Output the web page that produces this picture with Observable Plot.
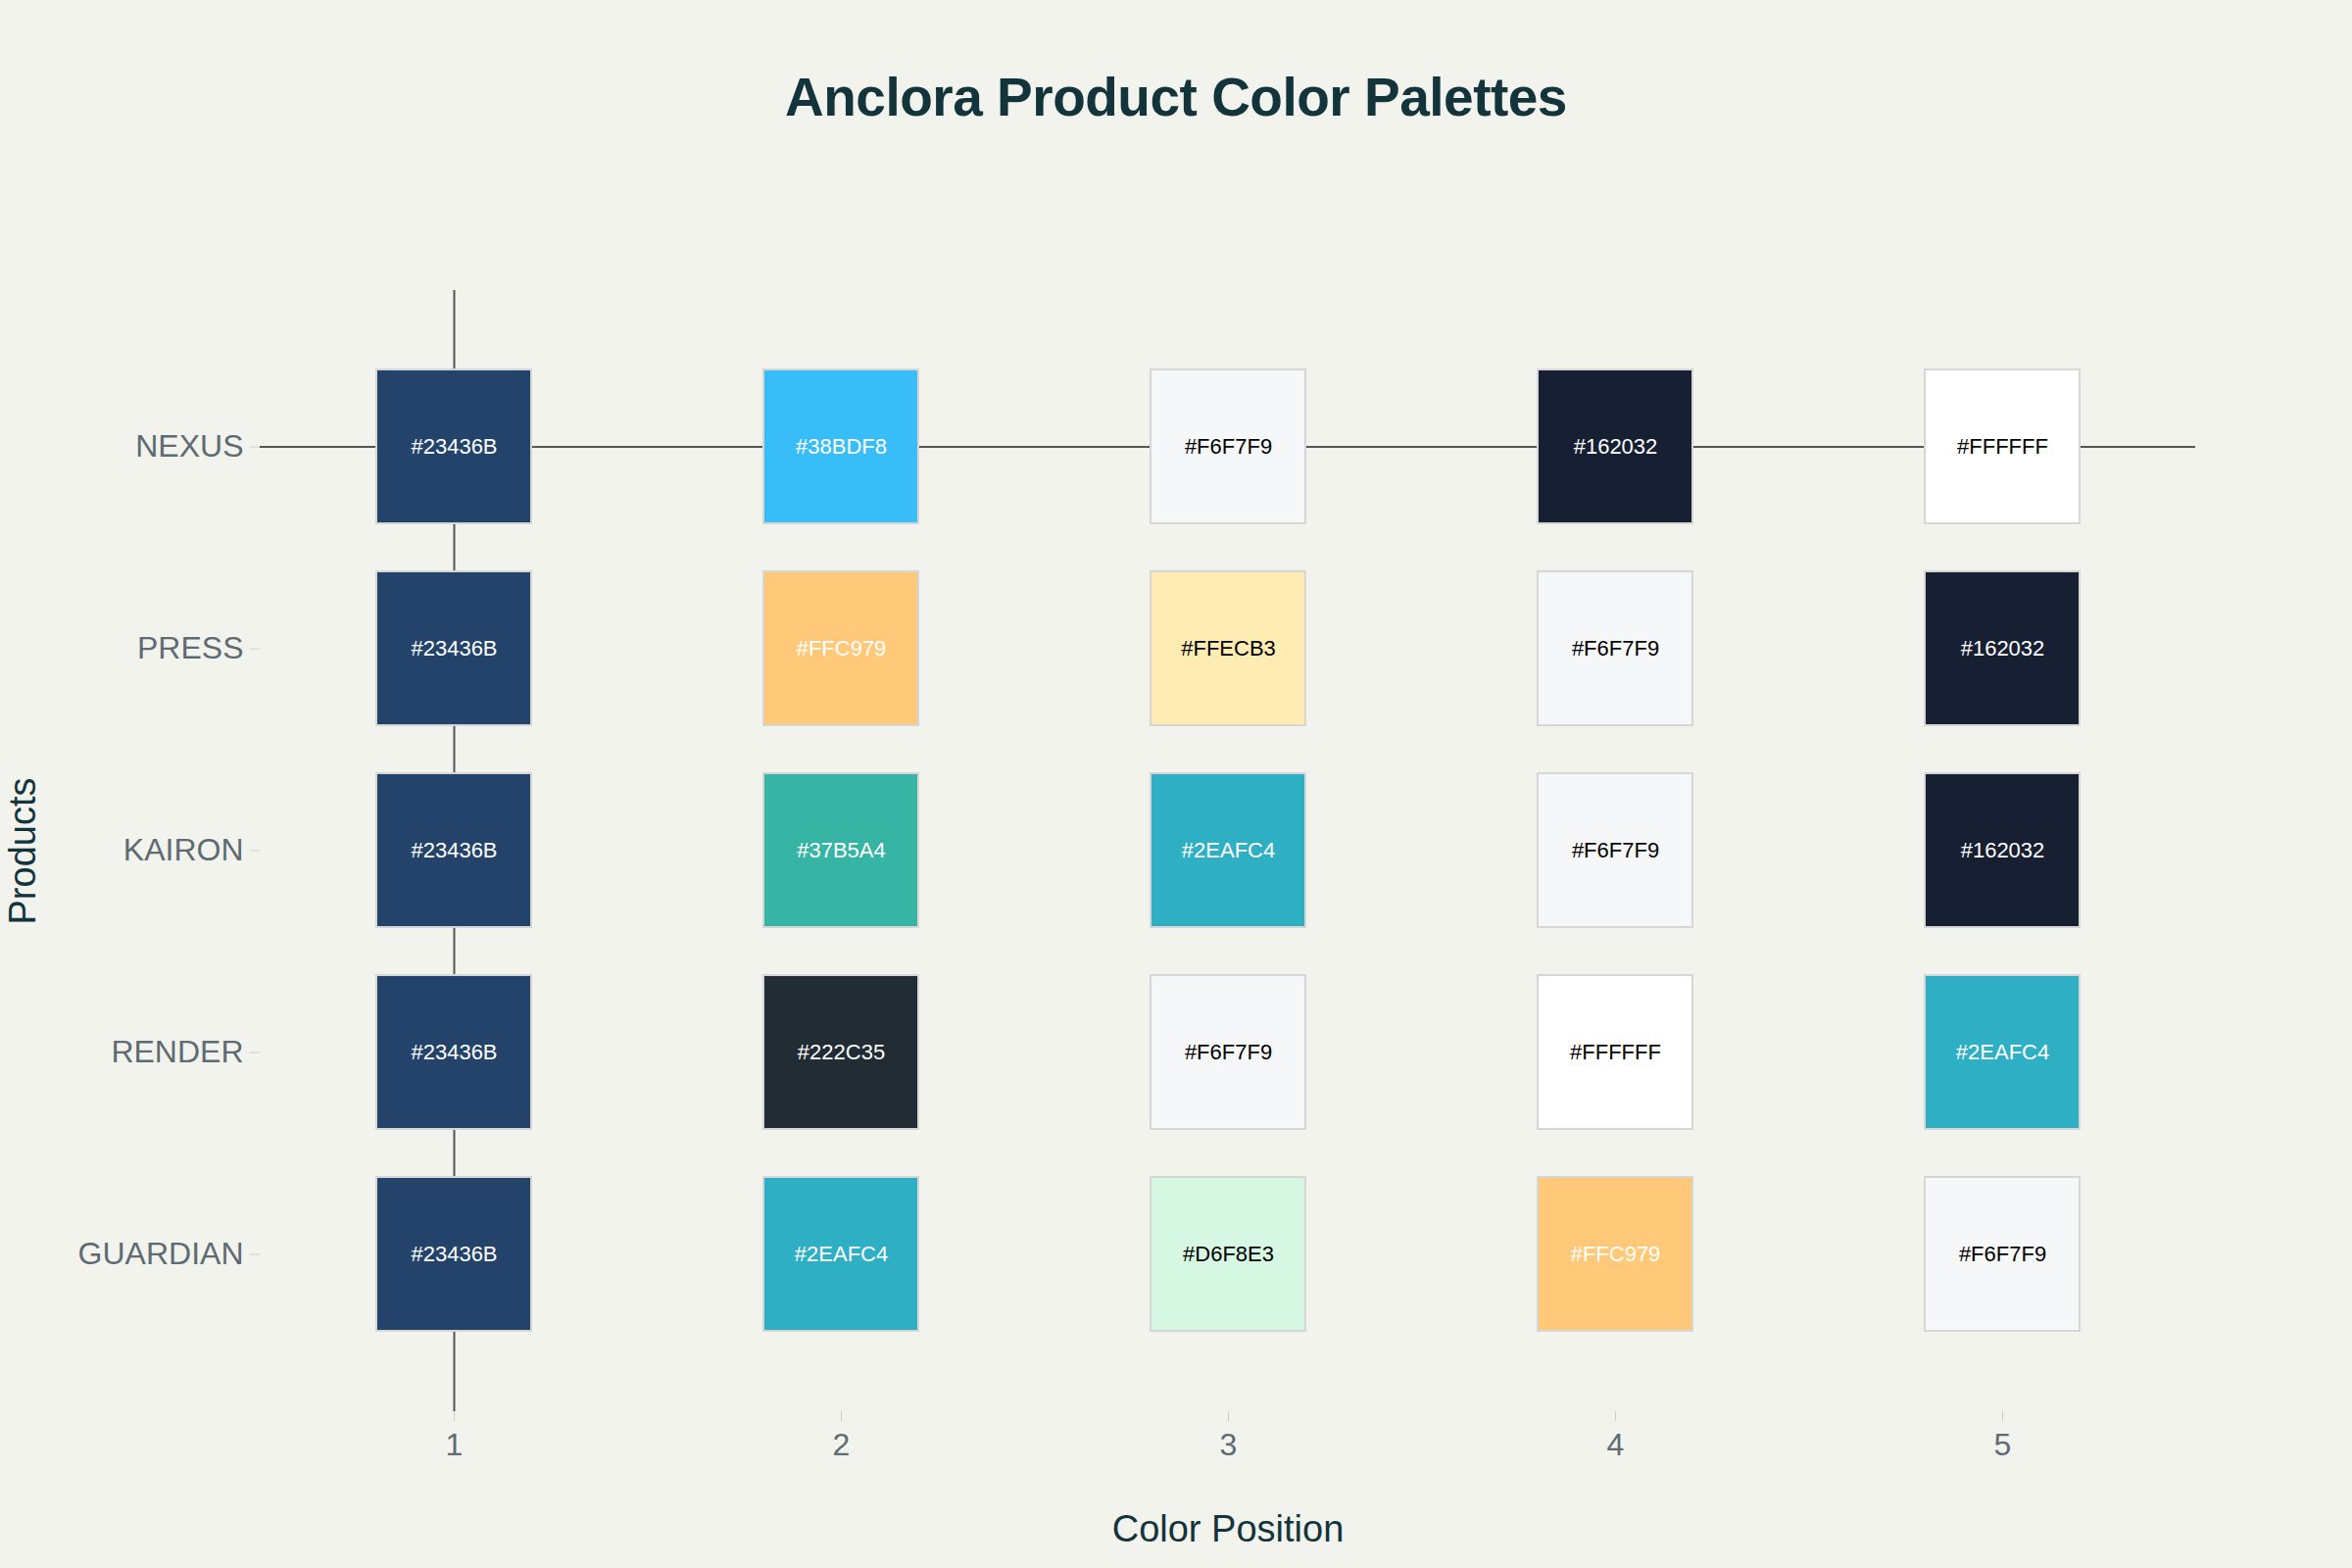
<!DOCTYPE html>
<html><head><meta charset="utf-8">
<script src="https://cdn.jsdelivr.net/npm/d3@7"></script>
<script src="https://cdn.jsdelivr.net/npm/@observablehq/plot@0.6"></script>
<style>
html,body{margin:0;padding:0;background:#F3F3EE;}
#wrap{width:2400px;height:1600px;position:relative;background:#F3F3EE;font-family:"Liberation Sans",Arial,sans-serif;}
#title{height:160px;box-sizing:border-box;padding-top:72px;text-align:center;font-size:55px;font-weight:bold;line-height:1;color:#13343B;letter-spacing:-0.5px;}
#chart svg{display:block;}
</style></head><body>
<div id="wrap"><div id="title">Anclora Product Color Palettes</div><div id="chart"></div></div>
<script>
const products = ["NEXUS", "PRESS", "KAIRON", "RENDER", "GUARDIAN"];
const positions = [1, 2, 3, 4, 5];
const nexus    = ["#23436B", "#38BDF8", "#F6F7F9", "#162032", "#FFFFFF"];
const press    = ["#23436B", "#FFC979", "#FFECB3", "#F6F7F9", "#162032"];
const kairon   = ["#23436B", "#37B5A4", "#2EAFC4", "#F6F7F9", "#162032"];
const render   = ["#23436B", "#222C35", "#F6F7F9", "#FFFFFF", "#2EAFC4"];
const guardian = ["#23436B", "#2EAFC4", "#D6F8E3", "#FFC979", "#F6F7F9"];
const palettes = [nexus, press, kairon, render, guardian];

const swatches = products.flatMap((p, i) => positions.map((pos, j) => ({product: p, position: pos, hex: palettes[i][j]})));
const textColor = hex => d3.hsl(hex).l > 0.8 ? "#000000" : "#FFFFFF";

const chart = Plot.plot({
  width: 2400, height: 1440,
  marginTop: 136, marginBottom: 160, marginLeft: 265, marginRight: 160,
  style: {background: "#F3F3EE", fontFamily: "Liberation Sans, Arial, sans-serif"},
  x: {type: "band", domain: positions, paddingInner: 0.595, paddingOuter: 0.2975, align: 0.5},
  y: {type: "band", domain: products, paddingInner: 0.227, paddingOuter: 0.377, align: 0.5},
  color: {type: "identity"},
  marks: [
    Plot.ruleX([positions[0]], {x: d => d, stroke: "#555555", strokeWidth: 2}),
    Plot.ruleY([products[0]], {y: d => d, stroke: "#555555", strokeWidth: 2}),
    Plot.cell(swatches, {x: "position", y: "product", fill: "hex", stroke: "#d6d6d6", strokeWidth: 2, inset: 1}),
    Plot.text(swatches, {x: "position", y: "product", text: "hex", fill: d => textColor(d.hex), fontSize: 22}),
    Plot.axisX({tickSize: 10, tickPadding: 12, fontSize: 32, stroke: "#cccccc", fill: "#5f6b73", label: null}),
    Plot.axisY({tickSize: 10, tickPadding: 7, fontSize: 32, stroke: "#cccccc", fill: "#5f6b73", label: null}),
    Plot.text(["Color Position"], {frameAnchor: "bottom", dy: 120, lineAnchor: "middle", textAnchor: "middle", fontSize: 38, fill: "#13343B"}),
    Plot.text(["Products"], {frameAnchor: "left", dx: -242, rotate: -90, lineAnchor: "middle", textAnchor: "middle", fontSize: 38, fill: "#13343B"})
  ]
});
document.getElementById("chart").appendChild(chart);
</script>
</body></html>
